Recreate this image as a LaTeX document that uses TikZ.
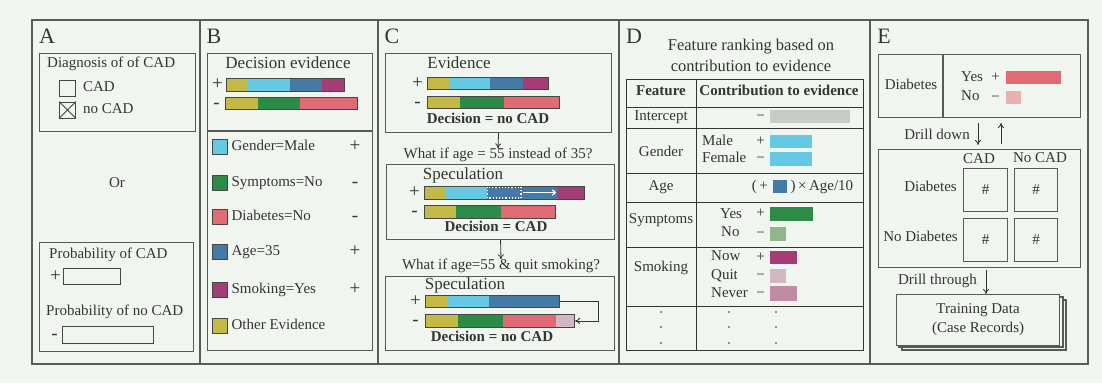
\documentclass[tikz,border=0pt]{standalone}
\usepackage{fontspec}
\setmainfont{Liberation Serif}
\usetikzlibrary{arrows.meta,positioning}

\definecolor{bgc}{RGB}{240,245,240}
\definecolor{frame}{RGB}{88,90,88}
\definecolor{ink}{RGB}{52,52,52}
\definecolor{bardark}{RGB}{70,70,70}
\definecolor{cOlive}{RGB}{196,185,70}
\definecolor{cCyan}{RGB}{102,201,227}
\definecolor{cBlue}{RGB}{69,121,166}
\definecolor{cPurple}{RGB}{164,61,116}
\definecolor{cGreen}{RGB}{44,140,71}
\definecolor{cRed}{RGB}{225,107,117}
\definecolor{cPink}{RGB}{212,182,194}
\definecolor{cMauve}{RGB}{192,140,163}
\definecolor{cLtGreen}{RGB}{143,183,138}
\definecolor{cGray}{RGB}{200,204,200}
\definecolor{cLtRed}{RGB}{232,176,174}

% coloured pieces of an evidence bar: top, bottom, x0/x1/colour list
\newcommand{\evbar}[3]{\foreach \xa/\xb/\col in {#3} {\fill[\col] (\xa,#1) rectangle (\xb,#2);}}

\begin{document}
\begin{tikzpicture}[
    x=1pt, y=-1pt,
    every node/.style={text=ink, inner sep=0pt, font=\fontsize{15}{18}\selectfont},
    txt/.style={text height=10pt, text depth=3pt},
    head/.style={font=\fontsize{17}{20}\selectfont, text height=11pt, text depth=3pt},
    bold/.style={txt, font=\fontsize{15}{18}\selectfont\bfseries},
    sign/.style={font=\fontsize{19}{19}\selectfont, text height=9.6pt, text depth=0pt},
    lbl/.style={font=\fontsize{22}{24}\selectfont},
    panel/.style={draw=frame, line width=1.1pt},
    box/.style={draw=frame, line width=1.1pt, anchor=north west},
    barbox/.style={draw=bardark, line width=0.9pt, anchor=north west},
    emptybar/.style={draw=bardark, line width=0.9pt, anchor=north west, fill=bgc},
    swatch/.style={draw=bardark, line width=0.8pt, minimum size=15pt},
    fbar/.style={anchor=north west},
    chk/.style={draw=bardark, line width=0.8pt, minimum size=16pt},
    grid/.style={draw=ink, line width=0.9pt},
    arr/.style={draw=ink, line width=0.8pt, -{To[length=5pt,width=6pt]}}
  ]

  \fill[bgc] (0,0) rectangle (1102,383);
  \useasboundingbox (0,0) rectangle (1102,383);

  % Panels
  \draw[panel] (32,20) rectangle (1088,364);
  \foreach \x in {200,378,619,870} \draw[panel] (\x,20) -- (\x,364);

  % A: diagnosis
  \node[lbl] (labA) at (47,36) {A};
  \node[box, minimum width=156pt, minimum height=78pt] (diagbox) at (39,53) {};
  \node[txt, anchor=west] (diagt) at (47,64) {Diagnosis of of CAD};
  \node[chk] (chkcad) at (67.5,88) {};
  \node[txt, right=7pt of chkcad] (cadt) {CAD};
  \node[chk] (chknocad) at (67.5,110) {};
  \draw[bardark, line width=0.8pt] (chknocad.north west) -- (chknocad.south east)
    (chknocad.north east) -- (chknocad.south west);
  \node[txt, right=7pt of chknocad] (nocadt) {no CAD};
  \node[txt] (ort) at (117,184) {Or};
  \node[box, minimum width=154pt, minimum height=109pt] (probbox) at (39,242) {};
  \node[txt, anchor=west] (pcadt) at (49,255) {Probability of CAD};
  \node[emptybar, minimum width=57pt, minimum height=16pt] (pcadbar) at (63,268) {};
  \node[sign, left=2pt of pcadbar] (pcadsign) {+};
  \node[txt, anchor=west] (pnocadt) at (46,312) {Probability of no CAD};
  \node[emptybar, minimum width=91pt, minimum height=17pt] (pnocadbar) at (62,326) {};
  \node[sign, left=4pt of pnocadbar] (pnocadsign) {-};

  % B: decision evidence and legend
  \node[lbl] (labB) at (214,36) {B};
  \node[box, minimum width=165pt, minimum height=297pt] (legbox) at (207,53) {};
  \draw[draw=frame, line width=1.1pt] (207,131) -- (372,131);
  \node[head] (devt) at (288,64) {Decision evidence};
  \evbar{78}{91}{226/248/cOlive,248/290/cCyan,290/322/cBlue,322/344/cPurple}
  \node[barbox, minimum width=118pt, minimum height=13pt] (bBplus) at (226,78) {};
  \node[sign, left=3pt of bBplus] (sBplus) {+};
  \evbar{97}{109}{225/258/cOlive,258/300/cGreen,300/357/cRed}
  \node[barbox, minimum width=132pt, minimum height=12pt] (bBminus) at (225,97) {};
  \node[sign, left=5pt of bBminus] (sBminus) {-};
  \foreach \y/\c/\t/\s [count=\i] in {147/cCyan/Gender=Male/+, 183/cGreen/Symptoms=No/-,
      217/cRed/Diabetes=No/-, 252/cBlue/Age=35/+, 290/cPurple/Smoking=Yes/+,
      326/cOlive/Other Evidence/{}} {
    \node[swatch, fill=\c] (sw\i) at (219.5,\y) {};
    \node[txt, right=4pt of sw\i] (lg\i) {\t};
    \node[sign] (sg\i) at (355,\y) {\s};
  }

  % C: evidence and speculation
  \node[lbl] (labC) at (392,36) {C};
  \node[box, minimum width=226pt, minimum height=79pt] (evid) at (385,53) {};
  \node[head] (evidt) at (459,64) {Evidence};
  \evbar{77}{89}{427/449/cOlive,449/490/cCyan,490/523/cBlue,523/548/cPurple}
  \node[barbox, minimum width=121pt, minimum height=12pt] (bC1plus) at (427,77) {};
  \node[sign, left=4pt of bC1plus] (sC1plus) {+};
  \evbar{96}{108}{427/460/cOlive,460/504/cGreen,504/559/cRed}
  \node[barbox, minimum width=132pt, minimum height=12pt] (bC1minus) at (427,96) {};
  \node[sign, left=6pt of bC1minus] (sC1minus) {-};
  \node[bold] (dec1) at (488,120) {Decision = no CAD};
  \node[txt] (q1) at (498,155) {What if age = 55 instead of 35?};
  \draw[arr] (evid.south) -- (q1.north);

  \node[box, minimum width=228pt, minimum height=75pt] (spec1) at (386,164) {};
  \node[head] (spec1t) at (463,175) {Speculation};
  \evbar{186}{199}{424/446/cOlive,446/487/cCyan,487/557/cBlue,557/584/cPurple}
  \draw[white, line width=1.2pt, dotted] (487.5,187) rectangle (521,198);
  \coordinate (shiftA) at (523,192.5);
  \coordinate (shiftB) at (556,192.5);
  \draw[white, line width=1.2pt, -{To[length=4pt,width=6pt]}] (shiftA) -- (shiftB);
  \node[barbox, minimum width=160pt, minimum height=13pt] (bC2plus) at (424,186) {};
  \node[sign, left=4pt of bC2plus] (sC2plus) {+};
  \evbar{205}{218}{424/456/cOlive,456/501/cGreen,501/555/cRed}
  \node[barbox, minimum width=131pt, minimum height=13pt] (bC2minus) at (424,205) {};
  \node[sign, left=6pt of bC2minus] (sC2minus) {-};
  \node[bold] (dec2) at (496,228) {Decision = CAD};
  \node[txt] (q2) at (501,266) {What if age=55 \& quit smoking?};
  \draw[arr] (spec1.south) -- (q2.north);

  \node[box, minimum width=229pt, minimum height=74pt] (spec2) at (385,276) {};
  \node[head] (spec2t) at (465,285) {Speculation};
  \evbar{295}{307}{425/447/cOlive,447/489/cCyan,489/559/cBlue}
  \node[barbox, minimum width=134pt, minimum height=12pt] (bC3plus) at (425,295) {};
  \node[sign, left=4pt of bC3plus] (sC3plus) {+};
  \evbar{314}{327}{425/458/cOlive,458/503/cGreen,503/556/cRed,556/574/cPink}
  \node[barbox, minimum width=149pt, minimum height=13pt] (bC3minus) at (425,314) {};
  \node[sign, left=6pt of bC3minus] (sC3minus) {-};
  \draw[draw=ink, line width=0.9pt, -{To[length=5pt,width=6pt]}]
    (bC3plus.east) -- ++(39,0) |- (bC3minus.east);
  \node[bold] (dec3) at (492,338) {Decision = no CAD};

  % D: feature ranking table
  \node[lbl] (labD) at (634,36) {D};
  \node[align=center, font=\fontsize{16.5}{21}\selectfont] (rankt) at (751,55)
    {Feature ranking based on\\contribution to evidence};
  \draw[grid] (626,79) rectangle (863,350);
  \draw[grid] (696,79) -- (696,350);
  \foreach \y in {107,128,173,202,247,306} \draw[grid] (626,\y) -- (863,\y);
  \node[bold] (hfeat) at (661,92) {Feature};
  \node[bold] (hcontr) at (779,92) {Contribution to evidence};

  \node[txt] (fint) at (661,117) {Intercept};
  \node[fbar, fill=cGray, minimum width=80pt, minimum height=13pt] (bint) at (770,110) {};
  \node[txt, left=5pt of bint] (sint) {−};

  \node[txt] (fgen) at (661,153) {Gender};
  \node[txt, anchor=west] (male) at (702,142) {Male};
  \node[fbar, fill=cCyan, minimum width=42pt, minimum height=13pt] (bmale) at (770,135) {};
  \node[txt, left=5pt of bmale] (smale) {+};
  \node[txt, anchor=west] (female) at (702,159) {Female};
  \node[fbar, fill=cCyan, minimum width=42pt, minimum height=14pt] (bfemale) at (770,152) {};
  \node[txt, left=5pt of bfemale] (sfemale) {−};

  \node[txt] (fage) at (661,187) {Age};
  \node[fbar, fill=cBlue, minimum width=14pt, minimum height=13pt] (bage) at (773,180) {};
  \node[txt, left=5pt of bage] (sage) {(\,+};
  \node[txt, right=3pt of bage] (agetimes) {)\,×\,Age/10};

  \node[txt] (fsym) at (661,220) {Symptoms};
  \node[txt, anchor=west] (syes) at (720,215) {Yes};
  \node[fbar, fill=cGreen, minimum width=43pt, minimum height=14pt] (bsyes) at (770,207) {};
  \node[txt, left=5pt of bsyes] (ssyes) {+};
  \node[txt, anchor=west] (sno) at (721,233) {No};
  \node[fbar, fill=cLtGreen, minimum width=16pt, minimum height=14pt] (bsno) at (770,227) {};
  \node[txt, left=5pt of bsno] (ssno) {−};

  \node[txt] (fsmk) at (661,268) {Smoking};
  \node[txt, anchor=west] (snow) at (711,257) {Now};
  \node[fbar, fill=cPurple, minimum width=27pt, minimum height=13pt] (bsnow) at (770,251) {};
  \node[txt, left=5pt of bsnow] (ssnow) {+};
  \node[txt, anchor=west] (squit) at (711,276) {Quit};
  \node[fbar, fill=cPink, minimum width=16pt, minimum height=14pt] (bsquit) at (770,269) {};
  \node[txt, left=5pt of bsquit] (ssquit) {−};
  \node[txt, anchor=west] (snever) at (711,294) {Never};
  \node[fbar, fill=cMauve, minimum width=27pt, minimum height=15pt] (bsnever) at (770,286) {};
  \node[txt, left=5pt of bsnever] (ssnever) {−};

  \foreach \y in {312,327,343}
    \foreach \x in {661,729,776} \fill[ink] (\x,\y) circle (0.9pt);

  % E: drill down and drill through
  \node[lbl] (labE) at (884,36) {E};
  \node[box, minimum width=202pt, minimum height=63pt] (diabox) at (878,54) {};
  \draw[draw=frame, line width=1.1pt] (943,54) -- (943,117);
  \node[txt] (diat) at (911,86) {Diabetes};
  \node[txt, anchor=west] (dyes) at (961,78) {Yes};
  \node[fbar, fill=cRed, minimum width=55pt, minimum height=13pt] (bdyes) at (1006,71) {};
  \node[txt, left=6pt of bdyes] (sdyes) {+};
  \node[txt, anchor=west] (dno) at (961,97) {No};
  \node[fbar, fill=cLtRed, minimum width=15pt, minimum height=13pt] (bdno) at (1006,91) {};
  \node[txt, left=6pt of bdno] (sdno) {−};

  \node[box, minimum width=202pt, minimum height=118pt] (cube) at (878,149) {};
  \node[txt, anchor=east] (ddown) at (970,136) {Drill down};
  \coordinate (dnA) at (978,123);
  \coordinate (dnB) at (978,145);
  \coordinate (upA) at (1001,144);
  \coordinate (upB) at (1001,123);
  \draw[arr] (dnA) -- (dnB);
  \draw[arr] (upA) -- (upB);

  \node[txt] (hcad) at (979,160) {CAD};
  \node[txt] (hnocad) at (1040,159) {No CAD};
  \node[box, minimum width=44pt, minimum height=43pt] (c11) at (963,168) {\#};
  \node[box, minimum width=43pt, minimum height=43pt] (c12) at (1014,168) {\#};
  \node[box, minimum width=44pt, minimum height=43pt] (c21) at (963,218) {\#};
  \node[box, minimum width=43pt, minimum height=43pt] (c22) at (1014,218) {\#};
  \node[txt, anchor=east] (rdia) at (957,188) {Diabetes};
  \node[txt, anchor=east] (rnodia) at (958,238) {No Diabetes};

  \node[txt, anchor=east] (dthru) at (977,281) {Drill through};
  \draw[box, fill=bgc] (902,300) rectangle (1066,350);
  \draw[box, fill=bgc] (899,297) rectangle (1063,347);
  \node[box, fill=bgc, minimum width=163pt, minimum height=51pt, align=center,
    font=\fontsize{15}{19}\selectfont] (train) at (896,294)
    {Training Data\\(Case Records)};
  \draw[arr] ([xshift=9pt]dthru.east |- 0,270) -- ([xshift=9pt]dthru.east |- train.north);

\end{tikzpicture}
\end{document}
